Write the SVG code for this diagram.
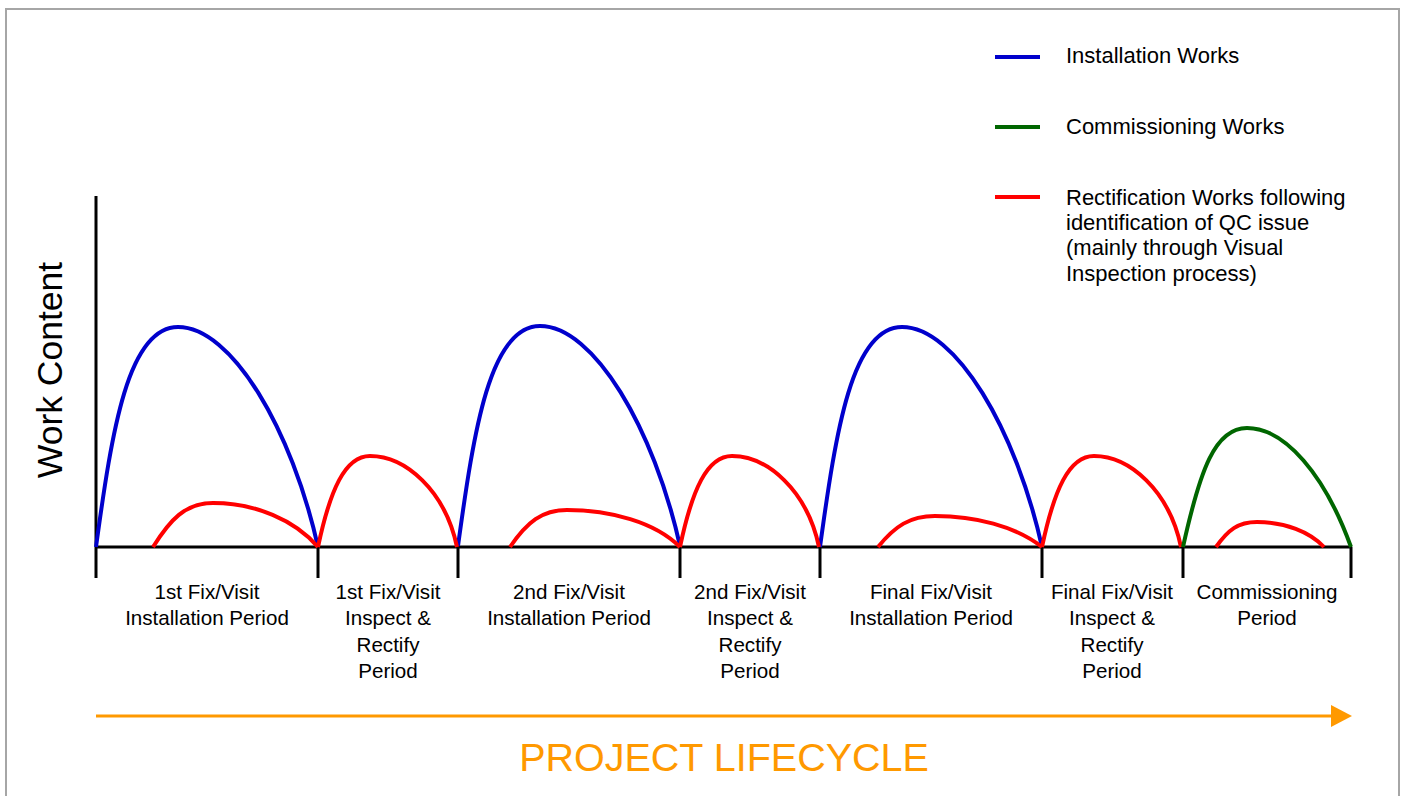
<svg xmlns="http://www.w3.org/2000/svg" width="1404" height="796" viewBox="0 0 1404 796">
  <style>
    .axis { stroke: #000; stroke-width: 3; fill: none; }
    .blue { stroke: #0000CC; stroke-width: 4; fill: none; stroke-linejoin: round; }
    .red { stroke: #FF0000; stroke-width: 4; fill: none; stroke-linejoin: round; }
    .green { stroke: #006600; stroke-width: 4; fill: none; stroke-linejoin: round; }
    .lbl { font-family: "Liberation Sans", Arial, sans-serif; font-size: 20.6px; fill: #000; text-anchor: middle; }
    .leg { font-family: "Liberation Sans", Arial, sans-serif; font-size: 22px; fill: #000; }
  </style>
  <defs>
    <path id="bluearc" d="M96,547 C112,430 128,327 178,327 C232,327 292,430 318,547"/>
    <path id="redbig" d="M318,547 C330,490 345,456 370,456 C405,456 445,490 457,547"/>
  </defs>
  <rect x="0" y="0" width="1404" height="796" fill="#fff"/>
  <rect x="6" y="9" width="1393" height="800" fill="none" stroke="#A6A6A6" stroke-width="2"/>

  <g id="axes">
    <line class="axis" x1="96" y1="196" x2="96" y2="578"/>
    <line class="axis" x1="96" y1="547" x2="1352" y2="547"/>
    <line class="axis" x1="318" y1="547" x2="318" y2="578"/>
    <line class="axis" x1="458" y1="547" x2="458" y2="578"/>
    <line class="axis" x1="680" y1="547" x2="680" y2="578"/>
    <line class="axis" x1="820" y1="547" x2="820" y2="578"/>
    <line class="axis" x1="1042" y1="547" x2="1042" y2="578"/>
    <line class="axis" x1="1183" y1="547" x2="1183" y2="578"/>
    <line class="axis" x1="1351" y1="547" x2="1351" y2="578"/>
  </g>

  <g id="curves">
    <use href="#bluearc" class="blue"/>
    <use href="#bluearc" class="blue" transform="translate(362,-1)"/>
    <use href="#bluearc" class="blue" transform="translate(724,0)"/>
    <use href="#redbig" class="red"/>
    <use href="#redbig" class="red" transform="translate(362,0)"/>
    <use href="#redbig" class="red" transform="translate(724,0)"/>
    <path class="red" d="M153,547 C170,520 185,503 213,503 C255,503 295,520 318,547"/>
    <path class="red" d="M510,547 C527,522 542,510 567,510 C610,510 655,522 680,547"/>
    <path class="red" d="M878,547 C895,526 910,516 935,516 C975,516 1015,526 1042,547"/>
    <path class="green" d="M1183,547 C1200,470 1215,428 1247,428 C1285,428 1325,475 1351,547"/>
    <path class="red" d="M1216,547 C1228,530 1238,522 1257,522 C1285,522 1310,532 1324,547"/>
  </g>

  <g id="period-labels">
    <text class="lbl" x="207" y="599">1st Fix/Visit</text>
    <text class="lbl" x="207" y="625">Installation Period</text>
    <text class="lbl" x="388" y="599">1st Fix/Visit</text>
    <text class="lbl" x="388" y="625">Inspect &amp;</text>
    <text class="lbl" x="388" y="652">Rectify</text>
    <text class="lbl" x="388" y="678">Period</text>
    <text class="lbl" x="569" y="599">2nd Fix/Visit</text>
    <text class="lbl" x="569" y="625">Installation Period</text>
    <text class="lbl" x="750" y="599">2nd Fix/Visit</text>
    <text class="lbl" x="750" y="625">Inspect &amp;</text>
    <text class="lbl" x="750" y="652">Rectify</text>
    <text class="lbl" x="750" y="678">Period</text>
    <text class="lbl" x="931" y="599">Final Fix/Visit</text>
    <text class="lbl" x="931" y="625">Installation Period</text>
    <text class="lbl" x="1112" y="599">Final Fix/Visit</text>
    <text class="lbl" x="1112" y="625">Inspect &amp;</text>
    <text class="lbl" x="1112" y="652">Rectify</text>
    <text class="lbl" x="1112" y="678">Period</text>
    <text class="lbl" x="1267" y="599">Commissioning</text>
    <text class="lbl" x="1267" y="625">Period</text>
  </g>

  <g id="y-label">
    <text x="0" y="0" transform="translate(62,370) rotate(-90)" font-family="Liberation Sans, Arial, sans-serif" font-size="35.5" text-anchor="middle" fill="#000">Work Content</text>
  </g>

  <g id="legend">
    <line x1="995" y1="57" x2="1040" y2="57" stroke="#0000CC" stroke-width="4"/>
    <text class="leg" x="1066" y="63">Installation  Works</text>
    <line x1="995" y1="127" x2="1040" y2="127" stroke="#006600" stroke-width="4"/>
    <text class="leg" x="1066" y="134">Commissioning Works</text>
    <line x1="995" y1="197" x2="1040" y2="197" stroke="#FF0000" stroke-width="4"/>
    <text class="leg" x="1066" y="205">Rectification Works following</text>
    <text class="leg" x="1066" y="230">identification of QC issue</text>
    <text class="leg" x="1066" y="255">(mainly through Visual</text>
    <text class="leg" x="1066" y="281">Inspection process)</text>
  </g>

  <g id="lifecycle">
    <line x1="96" y1="716" x2="1333" y2="716" stroke="#FF9900" stroke-width="3"/>
    <polygon points="1331,705 1352,716 1331,727" fill="#FF9900"/>
    <text x="724" y="771" font-family="Liberation Sans, Arial, sans-serif" font-size="39.5" text-anchor="middle" fill="#FF9900">PROJECT LIFECYCLE</text>
  </g>
</svg>
